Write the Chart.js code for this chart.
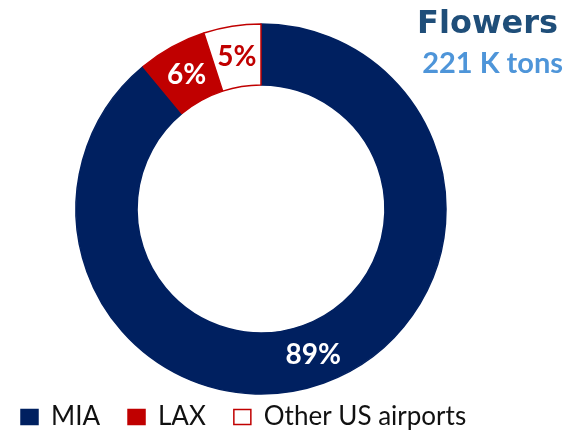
<!DOCTYPE html>
<html>
<head>
<meta charset="utf-8">
<script src="https://cdn.jsdelivr.net/npm/chart.js@4.4.1/dist/chart.umd.min.js"></script>
<style>
  html, body { margin: 0; padding: 0; background: #fff; overflow: hidden; }
  #wrap { position: relative; width: 578px; height: 433px; overflow: hidden; }
  #flowers-chart { position: absolute; left: 0; top: 7px; }
  #title {
    position: absolute; right: 20px; top: 6px;
    font: bold 32px "DejaVu Sans", sans-serif; line-height: 1;
    color: #1F4E79;
  }
  #subtitle {
    position: absolute; right: 15px; top: 47px;
    font: bold 29px Lato, sans-serif; line-height: 1;
    color: #4E95D9;
  }
</style>
</head>
<body>
<div id="wrap">
  <canvas id="flowers-chart" width="578" height="433"></canvas>
  <div id="title">Flowers</div>
  <div id="subtitle">221 K tons</div>
</div>
<script>
const airports = ['MIA', 'LAX', 'Other US airports'];
const shares = [89, 6, 5]; // % del tonelaje
const fillColors = ['#002060', '#C00000', '#FFFFFF'];
const edgeColors = ['#002060', '#C00000', '#C00000'];
const labelColors = ['#FFFFFF', '#FFFFFF', '#C00000'];

// etiquetas de porcentaje dentro de cada segmento
const sliceLabels = {
    id: 'sliceLabels',
    afterDatasetsDraw(chart) {
        const ctx = chart.ctx;
        const meta = chart.getDatasetMeta(0);
        ctx.save();
        ctx.font = 'bold 28px Lato, sans-serif';
        ctx.textAlign = 'center';
        ctx.textBaseline = 'middle';
        meta.data.forEach((arc, i) => {
            const pos = arc.tooltipPosition();
            ctx.fillStyle = labelColors[i];
            ctx.fillText(shares[i] + '%', pos.x, pos.y + 1);
        });
        ctx.restore();
    }
};

new Chart(
    document.getElementById('flowers-chart'),
    {
        type: 'doughnut',
        data: {
            labels: airports,
            datasets: [{
                data: shares,
                backgroundColor: fillColors,
                borderColor: edgeColors,
                borderWidth: 1.5,
            }]
        },
        options: {
            responsive: false,
            animation: false,
            radius: 185,
            cutout: '67%',
            layout: {
                padding: { left: -7, right: 56, top: 35, bottom: 0 }
            },
            plugins: {
                legend: {
                    position: 'bottom',
                    align: 'start',
                    labels: {
                        boxWidth: 17,
                        boxHeight: 15,
                        padding: 28,
                        color: '#111',
                        font: {
                            size: 26,
                            family: 'Lato',
                        }
                    }
                },
                tooltip: { enabled: false },
            }
        },
        plugins: [sliceLabels]
    }
);
</script>
</body>
</html>
